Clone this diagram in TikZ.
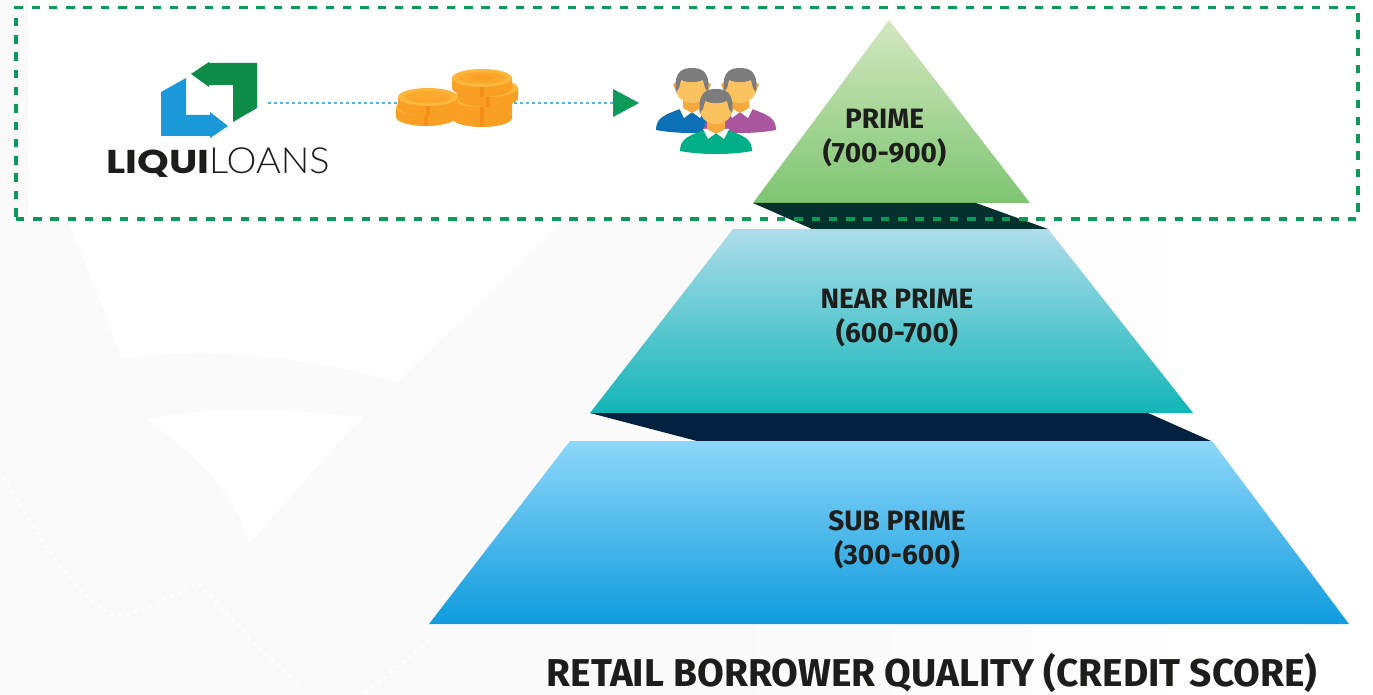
\documentclass[tikz,border=0pt]{standalone}
\usepackage{fontspec}
\setmainfont{Fira Sans}
\newfontfamily\logobold{Poppins}[BoldFont=* Bold]
\newfontfamily\logothin{Lato Light}
\definecolor{dashgreen}{HTML}{0B9A58}
\definecolor{darkband}{HTML}{04302E}
\definecolor{navyband}{HTML}{01213F}
\definecolor{logoblue}{HTML}{1B98D8}
\definecolor{logogreen}{HTML}{0D8C48}
\definecolor{dotblue}{HTML}{55B4E4}
\definecolor{txt}{HTML}{1D1D1B}
\definecolor{coin}{HTML}{FDB63C}
\definecolor{coind}{HTML}{F9A024}
\definecolor{coinin}{HTML}{FBA92E}
\definecolor{cointick}{HTML}{F58F1C}
\definecolor{skin}{HTML}{FBC35F}
\definecolor{neck}{HTML}{F5A93F}
\definecolor{hair}{HTML}{7C7C7C}
\definecolor{primetop}{HTML}{D4E7C0}
\definecolor{primebot}{HTML}{7EC572}
\definecolor{neartop}{HTML}{AEDDEA}
\definecolor{nearbot}{HTML}{12B5B8}
\definecolor{subtop}{HTML}{8DD7F9}
\definecolor{subbot}{HTML}{0F9BDD}
\definecolor{pagebg}{HTML}{FAFAFB}
\definecolor{shirtblue}{HTML}{0A6FB5}
\definecolor{shirtpurple}{HTML}{A9569E}
\definecolor{shirtteal}{HTML}{00AF86}
\tikzset{
  tierlabel/.style={font=\bfseries\fontsize{28}{34}\selectfont,text=txt,align=center,inner sep=0pt},
  titletext/.style={font=\bfseries\fontsize{38.8}{40}\selectfont,text=txt,inner sep=0pt},
  flow/.style={dotblue,line width=1.7pt,dash pattern=on 3.2pt off 2.8pt},
}
\newcommand{\coinlayer}[3]{%
  \fill[coind] (#1-#3,#2) -- (#1-#3,#2+10) arc[start angle=180,end angle=0,x radius=#3,y radius=9] -- (#1+#3,#2) -- cycle;
  \fill[cointick] (#1-2,#2+9) rectangle (#1+2,#2+19);
  \fill[coin] (#1,#2) ellipse[x radius=#3,y radius=9];
  \fill[coinin] (#1,#2) ellipse[x radius=#3*0.78,y radius=6];
}
\newcommand{\person}[4]{% x, y of top of hair, shirt colour, scale
  \begin{scope}[shift={(#1,#2)},scale=#4]
    \fill[#3] (-36,62) .. controls (-36,50) and (-28,47) .. (-12,41) -- (12,41) .. controls (28,47) and (36,50) .. (36,62) .. controls (15,66) and (-15,66) .. (-36,62) -- cycle;
    \fill[white] (-13,40) -- (-8,50) -- (0,44) -- (8,50) -- (13,40) -- cycle;
    \fill[neck] (-9,30) -- (9,30) -- (9,40) -- (0,45) -- (-9,40) -- cycle;
    \fill[neck] (-19,16) -- (-15,14) -- (-15,26) -- cycle;
    \fill[neck] (19,16) -- (15,14) -- (15,26) -- cycle;
    \fill[skin] (-16,12) -- (16,12) -- (15,26) .. controls (10,38) and (-10,38) .. (-15,26) -- cycle;
    \fill[hair] (-16,24) .. controls (-19,2) and (-8,0) .. (0,0) .. controls (8,0) and (19,2) .. (16,24) -- (13,20) -- (11,12) .. controls (4,15) and (-4,15) .. (-11,12) -- (-13,20) -- cycle;
  \end{scope}
}
\begin{document}
\begin{tikzpicture}[x=1pt,y=-1pt]
\useasboundingbox (0,0) rectangle (1373,695);
\fill[white] (0,0) rectangle (1373,695);
% faint background
\shade[left color=pagebg,right color=white,middle color=pagebg] (0,222) rectangle (1373,695);
\fill[pagebg] (0,0) rectangle (28,222);
\fill[white] (69,222) -- (122,358) .. controls (220,345) and (320,360) .. (398,382) -- (513,270) -- (560,222) -- cycle;
\fill[white] (147,420) .. controls (210,405) and (290,410) .. (364,417) .. controls (320,460) and (280,510) .. (249,543) .. controls (235,490) and (190,450) .. (147,420) -- cycle;
\draw[white,line width=3.5pt,dash pattern=on 3pt off 5pt] (4,477) .. controls (40,540) and (70,590) .. (115,617) .. controls (145,610) and (175,595) .. (199,583) .. controls (230,620) and (270,660) .. (300,683);
\draw[white,line width=3.5pt,dash pattern=on 3pt off 5pt] (365,693) -- (430,640);
% tiers
\shade[top color=primetop,bottom color=primebot] (889,20) -- (1030,203) -- (753,203) -- cycle;
\fill[darkband] (753,203) -- (976,203) -- (1048,229) -- (812,229) -- cycle;
\shade[top color=neartop,bottom color=nearbot] (733,229) -- (1048,229) -- (1193,413) -- (590,413) -- cycle;
\fill[navyband] (590,413) -- (1148,413) -- (1211,441) -- (697,441) -- cycle;
\shade[top color=subtop,bottom color=subbot] (570,441) -- (1212,441) -- (1349,624) -- (429,624) -- cycle;
% dashed frame
\node[draw=dashgreen,line width=3.6pt,dash pattern=on 8.5pt off 8.8pt,outer sep=0pt,minimum width=1342.3pt,minimum height=211.5pt,inner sep=0pt,anchor=north west] (frame) at (15.7,7.5) {};
% labels
\node[tierlabel] (prime) at (884.5,138) {PRIME\\(700-900)};
\node[tierlabel] (near) at (897,318) {NEAR PRIME\\(600-700)};
\node[tierlabel] (sub) at (897,539.5) {SUB PRIME\\(300-600)};
\node[titletext,anchor=base] (ttl) at (932,686.8) {RETAIL BORROWER QUALITY (CREDIT SCORE)};
% logo
\fill[logoblue] (161,92) -- (186,78) -- (186,115) -- (210,115) -- (210,112) -- (228,126) -- (210,138) -- (210,136) -- (161,136) -- cycle;
\fill[logogreen] (257,63) -- (257,108) -- (233,122) -- (233,85) -- (209,85) -- (209,87) -- (191,74) -- (209,62) -- (209,63) -- cycle;
\node[anchor=base west,inner sep=0pt,font=\logobold\bfseries\fontsize{33}{33}\selectfont,text=txt] (liqui) at (106,174) {\scalebox{1.22}[1]{LIQUI}};
\node[anchor=base west,inner sep=0pt,font=\logothin\fontsize{36}{36}\selectfont,text=txt] (loans) at (209,174) {\scalebox{1.05}[1]{LOANS}};
% flow
\coordinate (flowa) at (268,103);
\coordinate (flowb) at (614,103);
\draw[flow] (flowa) -- (flowb);
\coinlayer{482}{108}{30}
\coinlayer{482}{98}{30}
\coinlayer{488}{88}{30}
\coinlayer{482}{78}{30}
\fill[coind] (482,78) ellipse[x radius=11,y radius=3.5];
\coinlayer{426}{107}{30}
\coinlayer{428}{97}{30}
\fill[dashgreen] (613,89) -- (639,103) -- (613,117) -- cycle;
\person{692}{68}{shirtblue}{1}
\person{740}{68}{shirtpurple}{1}
\person{716}{89}{shirtteal}{1}
\end{tikzpicture}
\end{document}
